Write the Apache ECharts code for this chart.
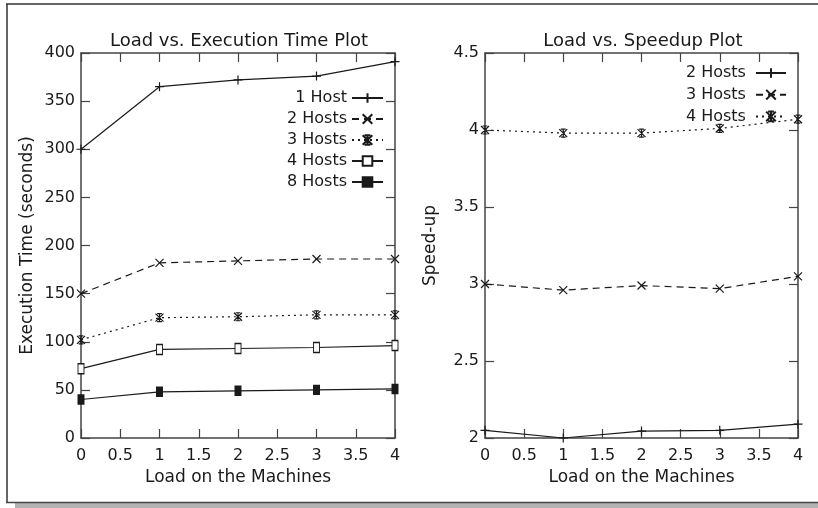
<!DOCTYPE html>
<html>
<head>
<meta charset="utf-8">
<script src="https://cdn.jsdelivr.net/npm/echarts@6/dist/echarts.min.js"></script>
<style>
  html, body { margin: 0; padding: 0; background: #fff; }
  #main { width: 818px; height: 508px; }
</style>
</head>
<body>
<div id="main"></div>
<script>
// data
var loads = [0, 1, 2, 3, 4];
var execHost1 = [300, 365, 372, 376, 391];
var execHosts2 = [150, 182, 184, 186, 186];
var execHosts3 = [102, 125, 126, 128, 128];
var execHosts4 = [72, 92, 93, 94, 96];
var execHosts8 = [40, 48, 49, 50, 51];
var speedHosts2 = [2.05, 2.0, 2.045, 2.05, 2.09];
var speedHosts3 = [3.0, 2.96, 2.99, 2.97, 3.05];
var speedHosts4 = [4.0, 3.98, 3.98, 4.01, 4.07];

var FONT = 'DejaVu Sans';
var INK = '#1a1a1a';
var AXIS = '#444';

var PLUS = 'path://M5,0L5,10M0,5L10,5';
var CROSS = 'path://M0,0L10,10M10,0L0,10';
var STAR = 'path://M0,0L10,10M10,0L0,10M5,0L5,10M2,0L8,0M2,10L8,10';
var BOX = 'rect';

function pairs(ys) {
  return loads.map(function (x, i) { return [x, ys[i]]; });
}

var axisLine = { show: true, onZero: false, lineStyle: { color: AXIS, width: 1.5 } };
var axisTick = { show: true, inside: true, length: 9, lineStyle: { color: AXIS, width: 1.2 } };

function xAxes(grid) {
  var base = {
    type: 'value', gridIndex: grid, min: 0, max: 4, interval: 0.5,
    splitLine: { show: false }, axisLine: axisLine, axisTick: axisTick
  };
  return [
    Object.assign({}, base, {
      position: 'bottom',
      name: 'Load on the Machines', nameLocation: 'middle', nameGap: 31,
      nameTextStyle: { fontFamily: FONT, fontSize: 17, color: INK },
      axisLabel: { fontFamily: FONT, fontSize: 16, color: INK, margin: 10 }
    }),
    Object.assign({}, base, { position: 'top', axisLabel: { show: false } })
  ];
}

function yAxes(grid, min, max, step, name, gap) {
  var base = {
    type: 'value', gridIndex: grid, min: min, max: max, interval: step,
    splitLine: { show: false }, axisLine: axisLine, axisTick: axisTick
  };
  return [
    Object.assign({}, base, {
      position: 'left',
      name: name, nameLocation: 'middle', nameGap: gap,
      nameTextStyle: { fontFamily: FONT, fontSize: 17, color: INK },
      axisLabel: { fontFamily: FONT, fontSize: 16, color: INK, margin: 6 }
    }),
    Object.assign({}, base, { position: 'right', axisLabel: { show: false } })
  ];
}

function line(name, idx, ys, symbol, size, dash, fill) {
  return {
    name: name, type: 'line',
    xAxisIndex: idx, yAxisIndex: idx,
    data: pairs(ys),
    symbol: symbol, symbolSize: size, showSymbol: true,
    lineStyle: { color: INK, width: 1.2, type: dash },
    itemStyle: { color: fill, borderColor: INK, borderWidth: 1.2 },
    animation: false
  };
}

var chart = echarts.init(document.getElementById('main'));

var xa = xAxes(0).concat(xAxes(1));
var ya = yAxes(0, 0, 400, 50, 'Execution Time (seconds)', 45)
  .concat(yAxes(1, 2, 4.5, 0.5, 'Speed-up', 46));
// axes of the 2nd grid sit at index 2 (bottom/left) and 3 (mirrors)
var option = {
  backgroundColor: '#fff',
  animation: false,
  title: [
    { text: 'Load vs. Execution Time Plot', left: 234, top: 27, textAlign: 'center',
      textStyle: { fontFamily: FONT, fontSize: 18, fontWeight: 'normal', color: INK } },
    { text: 'Load vs. Speedup Plot', left: 638, top: 27, textAlign: 'center',
      textStyle: { fontFamily: FONT, fontSize: 18, fontWeight: 'normal', color: INK } }
  ],
  legend: [
    { orient: 'vertical', align: 'right', right: 434, top: 90, itemGap: 5, padding: 0,
      itemWidth: 31, itemHeight: 12,
      data: ['1 Host', '2 Hosts', '3 Hosts', '4 Hosts', '8 Hosts'],
      textStyle: { fontFamily: FONT, fontSize: 16, color: INK } },
    { orient: 'vertical', align: 'right', right: 31, top: 65, itemGap: 5.7, padding: 0,
      itemWidth: 30, itemHeight: 12,
      data: ['2 Hosts ', '3 Hosts ', '4 Hosts '],
      textStyle: { fontFamily: FONT, fontSize: 16, color: INK } }
  ],
  grid: [
    { left: 81, right: 423, top: 53, bottom: 70 },
    { left: 485, right: 20, top: 53, bottom: 70 }
  ],
  xAxis: xa,
  yAxis: ya,
  series: [
    line('1 Host', 0, execHost1, PLUS, 9, 'solid', 'none'),
    line('2 Hosts', 0, execHosts2, CROSS, 8, [7, 5], 'none'),
    line('3 Hosts', 0, execHosts3, STAR, 8, [2, 4], 'none'),
    line('4 Hosts', 0, execHosts4, BOX, [6, 10], 'solid', '#fff'),
    line('8 Hosts', 0, execHosts8, BOX, [6, 9], 'solid', INK),
    line('2 Hosts ', 2, speedHosts2, PLUS, 9, 'solid', 'none'),
    line('3 Hosts ', 2, speedHosts3, CROSS, 8, [7, 5], 'none'),
    line('4 Hosts ', 2, speedHosts4, STAR, 8, [2, 4], 'none')
  ],
  graphic: [
    { type: 'rect', shape: { x: 15, y: 503, width: 803, height: 5 }, style: { fill: '#b3b3b3' } },
    { type: 'line', shape: { x1: 6, y1: 4, x2: 818, y2: 4 }, style: { stroke: '#666', lineWidth: 2 } },
    { type: 'line', shape: { x1: 7, y1: 4, x2: 7, y2: 503 }, style: { stroke: '#333', lineWidth: 1.5 } },
    { type: 'line', shape: { x1: 6, y1: 502.5, x2: 818, y2: 502.5 }, style: { stroke: '#444', lineWidth: 1.5 } }
  ]
};
chart.setOption(option);
</script>
</body>
</html>
